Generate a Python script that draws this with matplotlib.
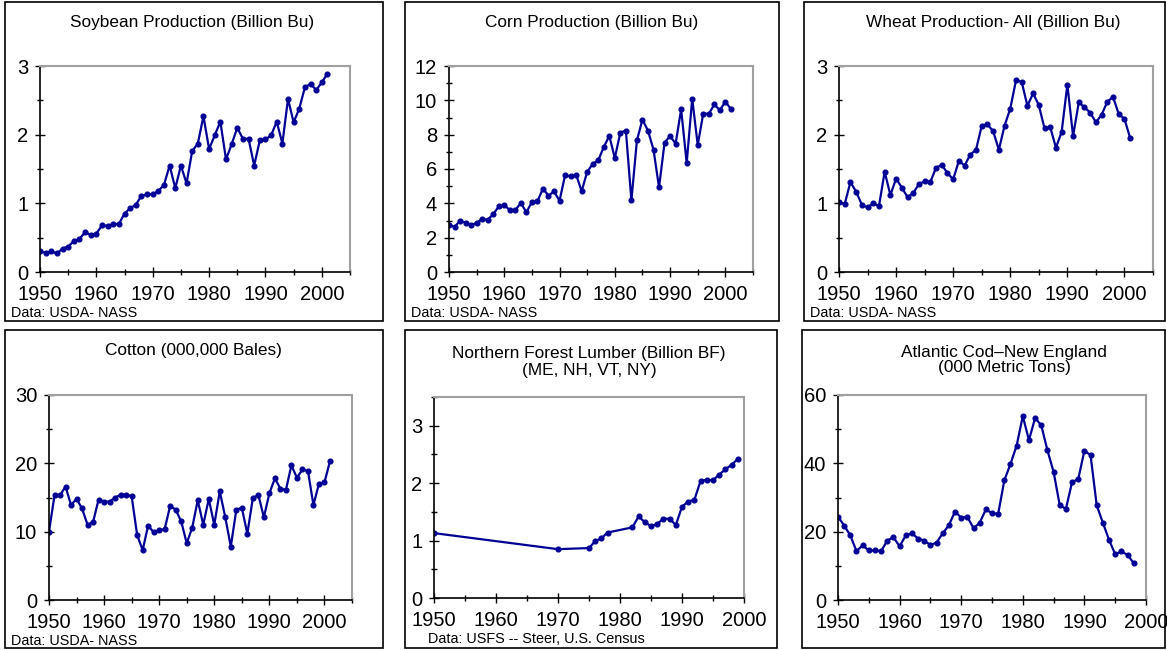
import numpy as np
import matplotlib
matplotlib.use("Agg")
import matplotlib.pyplot as plt
from matplotlib.patches import Rectangle

plt.rcParams['font.family'] = ['Liberation Sans', 'DejaVu Sans']

# ---- data ----
crop_years = list(range(1950, 2002))

soybean = [0.30, 0.28, 0.30, 0.27, 0.34, 0.37, 0.45, 0.48, 0.58, 0.54,
           0.56, 0.68, 0.67, 0.70, 0.70, 0.85, 0.93, 0.98, 1.11, 1.13,
           1.13, 1.18, 1.27, 1.55, 1.22, 1.55, 1.29, 1.76, 1.87, 2.27,
           1.79, 1.99, 2.19, 1.64, 1.86, 2.10, 1.94, 1.94, 1.55, 1.92,
           1.93, 1.99, 2.19, 1.87, 2.52, 2.18, 2.38, 2.69, 2.74, 2.65,
           2.76, 2.89]

corn = [2.76, 2.63, 2.98, 2.88, 2.71, 2.87, 3.08, 3.05, 3.36, 3.82,
        3.91, 3.60, 3.61, 4.02, 3.48, 4.08, 4.12, 4.86, 4.45, 4.69,
        4.15, 5.64, 5.57, 5.67, 4.70, 5.84, 6.29, 6.51, 7.27, 7.93,
        6.64, 8.12, 8.24, 4.17, 7.67, 8.88, 8.23, 7.13, 4.93, 7.53,
        7.93, 7.47, 9.48, 6.34, 10.10, 7.40, 9.23, 9.21, 9.76, 9.43,
        9.92, 9.50]

wheat = [1.02, 0.99, 1.31, 1.17, 0.98, 0.94, 1.00, 0.96, 1.46, 1.12,
         1.36, 1.23, 1.09, 1.15, 1.28, 1.32, 1.31, 1.52, 1.56, 1.44,
         1.35, 1.62, 1.55, 1.71, 1.78, 2.13, 2.15, 2.05, 1.78, 2.13,
         2.38, 2.79, 2.77, 2.42, 2.60, 2.43, 2.09, 2.11, 1.81, 2.04,
         2.73, 1.98, 2.47, 2.40, 2.32, 2.18, 2.29, 2.48, 2.55, 2.30,
         2.23, 1.95]

cotton = [10.0, 15.3, 15.3, 16.6, 13.9, 14.8, 13.4, 11.0, 11.4, 14.7,
          14.4, 14.4, 15.0, 15.4, 15.4, 15.2, 9.5, 7.3, 10.9, 9.9,
          10.2, 10.4, 13.8, 13.2, 11.5, 8.3, 10.6, 14.6, 11.0, 14.8,
          11.0, 15.9, 12.1, 7.8, 13.2, 13.5, 9.7, 14.9, 15.4, 12.1,
          15.6, 17.8, 16.3, 16.1, 19.7, 17.9, 19.1, 18.9, 13.9, 17.0,
          17.2, 20.3]

lumber_years = [1950, 1970, 1975, 1976, 1977, 1978, 1982, 1983, 1984, 1985,
                1986, 1987, 1988, 1989, 1990, 1991, 1992, 1993, 1994, 1995,
                1996, 1997, 1998, 1999]
lumber = [1.13, 0.85, 0.87, 0.99, 1.04, 1.14, 1.23, 1.42, 1.32, 1.25,
          1.29, 1.38, 1.38, 1.27, 1.59, 1.68, 1.71, 2.04, 2.06, 2.05,
          2.15, 2.24, 2.32, 2.42]

cod_years = list(range(1950, 1999))
cod = [24.4, 21.8, 18.9, 14.3, 16.0, 14.5, 14.5, 14.3, 17.4, 18.4,
       15.7, 18.9, 19.5, 18.0, 17.4, 16.1, 16.8, 19.5, 21.9, 25.9,
       24.1, 24.3, 21.0, 22.6, 26.5, 25.4, 25.2, 35.0, 39.8, 45.2,
       53.8, 46.8, 53.3, 51.1, 43.8, 37.5, 27.7, 26.7, 34.5, 35.4,
       43.7, 42.4, 27.7, 22.6, 17.6, 13.4, 14.2, 13.2, 10.8]

W, H = 1167, 650
fig = plt.figure(figsize=(W / 100, H / 100), dpi=100)
line_color = '#000096'


def px_axes(left, right, top, bottom):
    return fig.add_axes([left / W, 1 - bottom / H, (right - left) / W, (bottom - top) / H])


def frame(left, right, top, bottom):
    fig.add_artist(Rectangle((left / W, 1 - bottom / H), (right - left) / W, (bottom - top) / H,
                             transform=fig.transFigure, fill=False, edgecolor='black', lw=1.2))


def ftext(x, y, s, **kw):
    fig.text(x / W, 1 - y / H, s, **kw)


def panel(ax, x, y, xmax, ylim, major, minor):
    ax.plot(x, y, color=line_color, lw=1.6, marker='o', ms=3.4, mec=line_color, mfc=line_color)
    ax.set_xlim(1950, xmax)
    ax.set_ylim(*ylim)
    ax.set_xticks(range(1950, 2001, 10))
    ax.set_xticks(range(1955, int(xmax) + 1, 5), minor=True)
    ax.set_yticks(np.arange(0, ylim[1] + 1e-9, major))
    ax.set_yticks(np.arange(minor, ylim[1] + 1e-9, major), minor=True)
    ax.tick_params(which='both', direction='inout', labelsize=14.5, width=1)
    ax.tick_params(which='major', length=7)
    ax.tick_params(which='minor', length=5)
    ax.tick_params(axis='x', pad=6)
    ax.tick_params(axis='y', pad=5)
    for s in ['top', 'right']:
        ax.spines[s].set_color('#a0a0a0')
        ax.spines[s].set_linewidth(1.5)
    for s in ['left', 'bottom']:
        ax.spines[s].set_color('black')
        ax.spines[s].set_linewidth(1.2)


# panel frames
frame(5, 383, 2, 321)
frame(405, 779, 2, 321)
frame(804, 1165, 2, 321)
frame(5, 383, 330, 648)
frame(405, 777, 330, 648)
frame(802, 1165, 330, 648)

ax1 = px_axes(40, 350, 66, 272)
panel(ax1, crop_years, soybean, 2005, (0, 3), 1, 0.5)
ax2 = px_axes(449, 753, 66, 272)
panel(ax2, crop_years, corn, 2005, (0, 12), 2, 1)
ax3 = px_axes(839, 1153, 66, 272)
panel(ax3, crop_years, wheat, 2005, (0, 3), 1, 0.5)
ax4 = px_axes(49, 352, 395, 600)
panel(ax4, crop_years, cotton, 2005, (0, 30), 10, 5)
ax5 = px_axes(434, 744, 397, 598)
panel(ax5, lumber_years, lumber, 2000, (0, 3.5), 1, 0.5)
ax5.set_yticks([0, 1, 2, 3])
ax6 = px_axes(838, 1146, 395, 600)
panel(ax6, cod_years, cod, 2000, (0, 60), 20, 10)

tkw = dict(ha='center', va='center', fontsize=12.4)
ftext(192, 23, 'Soybean Production (Billion Bu)', **tkw)
ftext(592, 23, 'Corn Production (Billion Bu)', **tkw)
ftext(993, 23, 'Wheat Production- All (Billion Bu)', **tkw)
ftext(193, 351, 'Cotton (000,000 Bales)', **tkw)
ftext(589, 362, 'Northern Forest Lumber (Billion BF)\n(ME, NH, VT, NY)', linespacing=1.15, **tkw)
ftext(1004, 360, 'Atlantic Cod\u2013New England\n(000 Metric Tons)', linespacing=1.05, **tkw)

skw = dict(ha='left', va='center', fontsize=10.4)
ftext(11, 313, 'Data: USDA- NASS', **skw)
ftext(411, 313, 'Data: USDA- NASS', **skw)
ftext(810, 313, 'Data: USDA- NASS', **skw)
ftext(11, 641, 'Data: USDA- NASS', **skw)
ftext(428, 639, 'Data: USFS -- Steer, U.S. Census', **skw)

fig.savefig('out.png', dpi=100)
